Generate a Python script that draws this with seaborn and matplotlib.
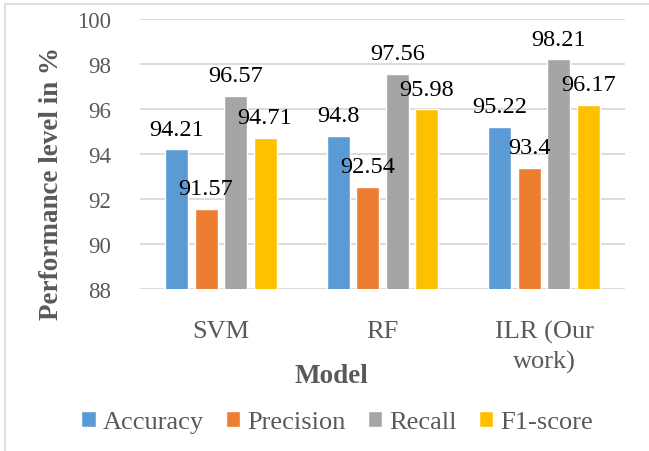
import matplotlib
matplotlib.use("Agg")
import matplotlib.pyplot as plt
from matplotlib.lines import Line2D
import pandas as pd
import seaborn as sns

# Data
models = ["SVM", "RF", "ILR (Our\nwork)"]
metrics = ["Accuracy", "Precision", "Recall", "F1-score"]
accuracy = [94.21, 94.8, 95.22]
precision = [91.57, 92.54, 93.4]
recall = [96.57, 97.56, 98.21]
f1_score = [94.71, 95.98, 96.17]
y_ticks = [88, 90, 92, 94, 96, 98, 100]

colors = ["#5B9BD5", "#ED7D31", "#A5A5A5", "#FFC000"]

rows = []
for metric, vals in zip(metrics, [accuracy, precision, recall, f1_score]):
    for m, v in zip(models, vals):
        rows.append({"Model": m, "Metric": metric, "Value": v})
df = pd.DataFrame(rows)

sns.set_theme(style="white")
plt.rcParams["font.family"] = ["Liberation Serif", "DejaVu Serif"]

W, H = 649, 452
fig = plt.figure(figsize=(W / 100, H / 100), dpi=100)
ax = fig.add_axes([140 / W, 1 - 290 / H, (625 - 140) / W, (290 - 20) / H])

sns.barplot(data=df, x="Model", y="Value", hue="Metric", order=models,
            hue_order=metrics, palette=colors, width=0.73, gap=0.22,
            saturation=1, ax=ax, legend=True)

ax.set_ylim(88, 100)
ax.set_xlim(-0.5, 2.5)
ax.set_yticks(y_ticks)
ax.set_yticklabels([str(t) for t in y_ticks])
ax.yaxis.grid(True, color="#D9D9D9", linewidth=1.3)
ax.set_axisbelow(True)
for s in ax.spines.values():
    s.set_visible(False)
ax.tick_params(axis="y", length=0, pad=21, labelsize=16.5, labelcolor="#595959")
ax.tick_params(axis="x", length=0, pad=22, labelsize=19, labelcolor="#595959")
for lbl in ax.get_xticklabels():
    lbl.set_linespacing(1.4)
ax.set_xlabel("")
ax.set_ylabel("")

# Value labels on top of each bar
for cont in ax.containers:
    ax.bar_label(cont, fmt="%g", padding=7, fontsize=17.5, color="black")

# Axis titles
fig.text(331 / W, 1 - 377 / H, "Model", ha="center", va="center",
         fontsize=19.5, fontweight="bold", color="#595959")
fig.text(52 / W, 1 - 184 / H, "Performance level in %", ha="center",
         va="center", rotation=90, fontsize=19.5, fontweight="bold",
         color="#595959")

# Legend below the axis
handles, labels = ax.get_legend_handles_labels()
ax.get_legend().remove()
fig.legend(handles, labels, loc="center", ncol=4, frameon=False,
           bbox_to_anchor=(337 / W, 1 - 423 / H), fontsize=19,
           labelcolor="#595959", handlelength=0.55, handleheight=0.55,
           handletextpad=0.25, columnspacing=0.85, borderaxespad=0)

# Chart frame
fig.add_artist(Line2D([5 / W, 1], [1 - 5 / H, 1 - 5 / H],
                      transform=fig.transFigure, color="#D9D9D9", lw=1.2))
fig.add_artist(Line2D([5 / W, 5 / W], [0, 1 - 5 / H],
                      transform=fig.transFigure, color="#D9D9D9", lw=1.2))

fig.savefig("out.png", dpi=100)
